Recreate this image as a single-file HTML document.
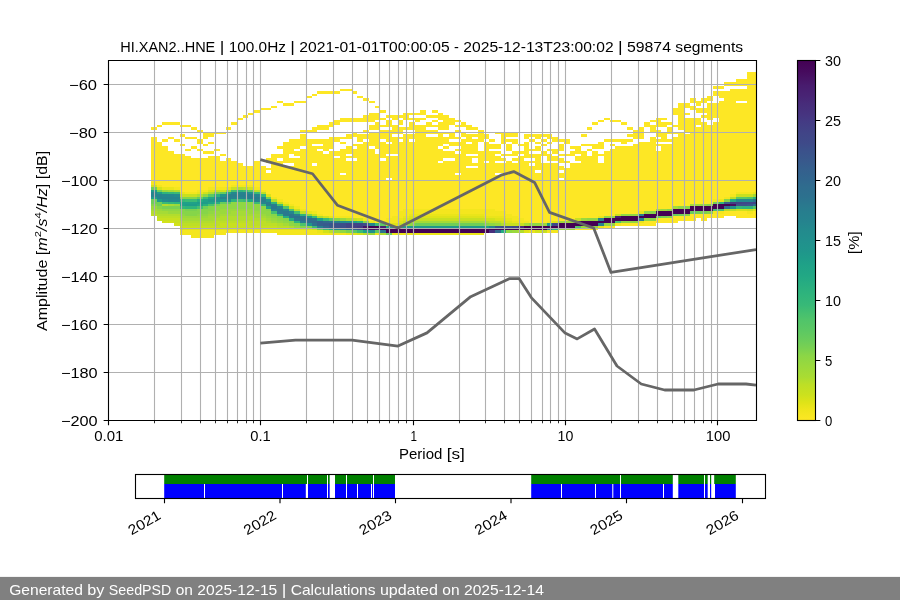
<!DOCTYPE html>
<html lang="en"><head><meta charset="utf-8"><title>PPSD HI.XAN2..HNE</title>
<style>html,body{margin:0;padding:0;background:#fff;width:900px;height:600px;overflow:hidden}svg text{font-family:"Liberation Sans",sans-serif;}</style></head>
<body>
<svg width="900" height="600" viewBox="0 0 900 600" style="display:block"><defs><clipPath id="axclip"><rect x="108.5" y="60.5" width="648" height="360"/></clipPath></defs><g clip-path="url(#axclip)" shape-rendering="crispEdges">
<path fill="#fde725" d="M151 127H157V130H151ZM151 137H157V182H151ZM157 125H162V127H157ZM157 142H162V185H157ZM162 122H168V125H162ZM162 139H168V142H162ZM162 146H168V187H162ZM168 122H174V125H168ZM168 137H174V139H168ZM168 151H174V187H168ZM174 122H180V125H174ZM174 139H180V142H174ZM174 154H180V187H174ZM180 125H185V127H180ZM180 134H185V137H180ZM180 144H185V146H180ZM180 154H185V192H180ZM185 125H191V127H185ZM185 137H191V139H185ZM185 149H191V151H185ZM185 156H191V192H185ZM191 127H197V130H191ZM191 137H197V139H191ZM191 146H197V149H191ZM191 158H197V192H191ZM197 130H203V132H197ZM197 139H203V144H197ZM197 149H203V151H197ZM197 158H203V190H197ZM203 132H208V139H203ZM203 144H208V146H203ZM203 151H208V154H203ZM203 158H208V190H203ZM208 132H214V137H208ZM208 142H214V144H208ZM208 151H214V154H208ZM208 156H214V187H208ZM214 132H220V134H214ZM214 149H220V151H214ZM214 156H220V187H214ZM220 132H226V134H220ZM220 154H226V156H220ZM220 161H226V187H220ZM226 127H231V130H226ZM226 158H231V187H226ZM231 122H237V125H231ZM231 161H237V185H231ZM237 118H243V120H237ZM237 163H243V185H237ZM243 115H248V118H243ZM243 166H248V185H243ZM248 113H254V115H248ZM248 166H254V185H248ZM254 110H260V113H254ZM254 161H260V187H254ZM260 108H266V110H260ZM260 166H266V190H260ZM266 108H271V110H266ZM266 158H271V163H266ZM266 168H271V170H266ZM266 173H271V194H266ZM271 106H277V108H271ZM271 154H277V197H271ZM277 101H283V103H277ZM277 146H283V149H277ZM277 154H283V158H277ZM277 161H283V199H277ZM283 103H289V106H283ZM283 142H289V163H283ZM283 166H289V202H283ZM289 103H294V106H289ZM289 139H294V154H289ZM289 158H294V163H289ZM289 166H294V204H289ZM294 101H300V103H294ZM294 139H300V149H294ZM294 151H300V156H294ZM294 158H300V206H294ZM300 101H306V103H300ZM300 130H306V132H300ZM300 134H306V146H300ZM300 149H306V209H300ZM306 96H312V98H306ZM306 130H312V132H306ZM306 139H312V211H306ZM312 94H317V96H312ZM312 127H317V132H312ZM312 139H317V144H312ZM312 146H317V163H312ZM312 166H317V211H312ZM317 91H323V94H317ZM317 125H323V130H317ZM317 139H323V144H317ZM317 146H323V149H317ZM317 151H323V214H317ZM323 91H329V94H323ZM323 125H329V130H323ZM323 139H329V151H323ZM323 154H329V216H323ZM329 91H334V94H329ZM329 122H334V127H329ZM329 137H334V149H329ZM329 151H334V216H329ZM334 91H340V94H334ZM334 120H340V125H334ZM334 137H340V142H334ZM334 151H340V156H334ZM334 158H340V216H334ZM340 89H346V91H340ZM340 118H346V122H340ZM340 137H346V139H340ZM340 142H346V144H340ZM340 149H346V173H340ZM340 175H346V216H340ZM346 89H352V91H346ZM346 118H352V122H346ZM346 134H352V139H346ZM346 146H352V154H346ZM346 156H352V158H346ZM346 161H352V216H346ZM352 91H357V94H352ZM352 118H357V122H352ZM352 132H357V137H352ZM352 144H357V146H352ZM352 149H357V158H352ZM352 161H357V218H352ZM357 96H363V98H357ZM357 118H363V122H357ZM357 134H363V142H357ZM357 144H363V218H357ZM363 98H369V101H363ZM363 115H369V122H363ZM363 130H369V132H363ZM363 134H369V139H363ZM363 142H369V218H363ZM369 101H375V103H369ZM369 113H375V122H369ZM369 125H375V130H369ZM369 132H375V146H369ZM369 149H375V221H369ZM375 106H380V108H375ZM375 113H380V120H375ZM375 122H380V130H375ZM375 132H380V149H375ZM375 154H380V223H375ZM380 110H386V113H380ZM380 118H386V120H380ZM380 125H386V127H380ZM380 130H386V139H380ZM380 142H386V158H380ZM380 161H386V221H380ZM386 115H392V118H386ZM386 120H392V127H386ZM386 130H392V142H386ZM386 144H392V154H386ZM386 156H392V178H386ZM386 180H392V218H386ZM392 115H398V120H392ZM392 125H398V134H392ZM392 137H398V154H392ZM392 156H398V216H392ZM398 115H403V118H398ZM398 120H403V125H398ZM398 127H403V134H398ZM398 137H403V139H398ZM398 142H403V211H398ZM403 113H409V120H403ZM403 127H409V130H403ZM403 134H409V209H403ZM409 113H415V115H409ZM409 118H415V120H409ZM409 122H415V130H409ZM409 134H415V139H409ZM409 142H415V209H409ZM415 113H420V115H415ZM415 118H420V122H415ZM415 125H420V209H415ZM420 110H426V115H420ZM420 118H426V120H420ZM420 125H426V209H420ZM426 115H432V118H426ZM426 122H432V127H426ZM426 130H432V134H426ZM426 137H432V209H426ZM432 110H438V113H432ZM432 115H438V118H432ZM432 120H438V122H432ZM432 125H438V127H432ZM432 130H438V134H432ZM432 137H438V209H432ZM438 113H443V120H438ZM438 122H443V130H438ZM438 132H443V146H438ZM438 149H443V161H438ZM438 163H443V209H438ZM443 115H449V130H443ZM443 132H449V134H443ZM443 137H449V144H443ZM443 146H449V149H443ZM443 151H449V158H443ZM443 161H449V209H443ZM449 118H455V125H449ZM449 132H455V139H449ZM449 142H455V146H449ZM449 151H455V158H449ZM449 161H455V209H449ZM455 120H461V122H455ZM455 125H461V127H455ZM455 130H461V132H455ZM455 137H461V139H455ZM455 142H461V146H455ZM455 149H461V151H455ZM455 154H461V173H455ZM455 175H461V209H455ZM461 122H466V127H461ZM461 132H466V137H461ZM461 139H466V209H461ZM466 125H472V130H466ZM466 134H472V142H466ZM466 144H472V154H466ZM466 156H472V166H466ZM466 168H472V209H466ZM472 127H478V130H472ZM472 134H478V137H472ZM472 139H478V154H472ZM472 156H478V158H472ZM472 163H478V166H472ZM472 168H478V209H472ZM478 130H484V142H478ZM478 151H484V209H478ZM484 134H489V139H484ZM484 142H489V161H484ZM484 163H489V209H484ZM489 139H495V142H489ZM489 144H495V149H489ZM489 151H495V209H489ZM495 132H501V134H495ZM495 144H501V149H495ZM495 151H501V154H495ZM495 156H501V161H495ZM495 163H501V173H495ZM495 175H501V211H495ZM501 132H506V144H501ZM501 154H506V156H501ZM501 158H506V161H501ZM501 163H506V173H501ZM501 175H506V211H501ZM506 132H512V137H506ZM506 139H512V142H506ZM506 144H512V151H506ZM506 154H512V156H506ZM506 161H512V214H506ZM512 132H518V137H512ZM512 139H518V144H512ZM512 151H518V156H512ZM512 158H518V161H512ZM512 163H518V216H512ZM518 144H524V146H518ZM518 151H524V154H518ZM518 156H524V218H518ZM524 134H529V139H524ZM524 142H529V158H524ZM524 161H529V221H524ZM529 134H535V137H529ZM529 139H535V142H529ZM529 149H535V151H529ZM529 154H535V158H529ZM529 161H535V163H529ZM529 166H535V223H529ZM535 134H541V139H535ZM535 142H541V144H535ZM535 146H541V151H535ZM535 154H541V170H535ZM535 173H541V223H535ZM541 134H547V137H541ZM541 139H547V142H541ZM541 144H547V146H541ZM541 151H547V156H541ZM541 163H547V223H541ZM547 134H552V139H547ZM547 142H552V144H547ZM547 149H552V151H547ZM547 154H552V161H547ZM547 163H552V221H547ZM552 137H558V142H552ZM552 149H558V154H552ZM552 156H558V161H552ZM552 163H558V221H552ZM558 139H564V142H558ZM558 144H564V151H558ZM558 154H564V156H558ZM558 158H564V163H558ZM558 166H564V170H558ZM558 173H564V178H558ZM558 180H564V221H558ZM564 139H570V144H564ZM564 154H570V156H564ZM564 161H570V163H564ZM564 168H570V221H564ZM570 146H575V149H570ZM570 151H575V156H570ZM570 163H575V221H570ZM575 146H581V154H575ZM575 156H581V161H575ZM575 163H581V218H575ZM575 228H581V230H575ZM581 134H587V137H581ZM581 144H587V146H581ZM581 151H587V218H581ZM581 228H587V230H581ZM587 127H592V130H587ZM587 144H592V146H587ZM587 149H592V151H587ZM587 156H592V218H587ZM587 228H592V230H587ZM592 122H598V125H592ZM592 144H598V149H592ZM592 151H598V218H592ZM592 228H598V230H592ZM598 120H604V122H598ZM598 142H604V149H598ZM598 154H604V156H598ZM598 163H604V216H598ZM604 118H610V120H604ZM604 139H610V142H604ZM604 151H610V216H604ZM604 226H610V228H604ZM610 120H615V122H610ZM610 139H615V142H610ZM610 144H615V146H610ZM610 149H615V216H610ZM610 226H615V228H610ZM615 120H621V122H615ZM615 139H621V142H615ZM615 146H621V214H615ZM621 122H627V125H621ZM621 139H627V144H621ZM621 146H627V214H621ZM621 223H627V226H621ZM627 127H633V130H627ZM627 134H633V137H627ZM627 139H633V142H627ZM627 146H633V214H627ZM627 223H633V226H627ZM633 130H638V139H633ZM633 144H638V214H633ZM633 223H638V226H633ZM638 127H644V139H638ZM638 142H644V211H638ZM638 223H644V226H638ZM644 122H650V127H644ZM644 142H650V211H644ZM644 221H650V226H644ZM650 120H656V122H650ZM650 125H656V132H650ZM650 137H656V211H650ZM650 221H656V226H650ZM656 118H661V127H656ZM656 130H661V137H656ZM656 139H661V142H656ZM656 144H661V146H656ZM656 151H661V209H656ZM656 218H661V223H656ZM661 118H667V120H661ZM661 122H667V127H661ZM661 132H667V142H661ZM661 144H667V209H661ZM661 218H667V223H661ZM667 122H673V125H667ZM667 127H673V134H667ZM667 139H673V142H667ZM667 144H673V209H667ZM667 218H673V223H667ZM673 108H678V115H673ZM673 125H678V127H673ZM673 132H678V134H673ZM673 137H678V206H673ZM673 216H678V223H673ZM678 103H684V130H678ZM678 132H684V206H678ZM678 216H684V221H678ZM684 103H690V108H684ZM684 113H690V115H684ZM684 118H690V132H684ZM684 134H690V206H684ZM684 216H690V221H684ZM690 98H696V103H690ZM690 106H696V110H690ZM690 118H696V204H690ZM690 214H696V221H690ZM696 101H701V106H696ZM696 108H701V113H696ZM696 118H701V125H696ZM696 127H701V204H696ZM696 214H701V218H696ZM701 98H707V103H701ZM701 108H707V113H701ZM701 115H707V118H701ZM701 122H707V204H701ZM701 214H707V221H701ZM707 96H713V101H707ZM707 103H713V120H707ZM707 125H713V204H707ZM707 214H713V218H707ZM713 86H719V89H713ZM713 91H719V96H713ZM713 103H719V118H713ZM713 122H719V199H713ZM713 214H719V218H713ZM719 86H724V89H719ZM719 91H724V98H719ZM719 101H724V199H719ZM719 214H724V218H719ZM724 82H730V86H724ZM724 91H730V197H724ZM724 211H730V216H724ZM730 82H736V86H730ZM730 89H736V194H730ZM730 211H736V216H730ZM736 79H742V86H736ZM736 89H742V101H736ZM736 103H742V192H736ZM736 211H742V218H736ZM742 79H747V86H742ZM742 89H747V101H742ZM742 103H747V192H742ZM742 211H747V218H742ZM747 72H753V192H747ZM747 214H753V218H747ZM753 72H759V192H753ZM753 211H759V218H753Z"/>
<path fill="#f4e61e" d="M151 182H157V185H151ZM157 185H162V187H157ZM174 187H180V190H174ZM180 230H185V235H180ZM185 192H191V194H185ZM185 230H191V235H185ZM191 192H197V194H191ZM191 230H197V238H191ZM197 190H203V192H197ZM197 230H203V238H197ZM203 190H208V192H203ZM203 230H208V238H203ZM208 187H214V190H208ZM208 230H214V238H208ZM214 187H220V190H214ZM214 230H220V235H214ZM220 187H226V190H220ZM220 230H226V235H220ZM226 230H231V233H226ZM231 185H237V187H231ZM231 230H237V233H231ZM237 185H243V187H237ZM237 230H243V233H237ZM243 185H248V187H243ZM243 230H248V233H243ZM248 185H254V187H248ZM248 230H254V233H248ZM254 187H260V190H254ZM254 230H260V233H254ZM260 190H266V192H260ZM260 230H266V233H260ZM266 230H271V233H266ZM271 197H277V199H271ZM271 230H277V233H271ZM277 199H283V202H277ZM277 230H283V235H277ZM283 202H289V204H283ZM283 230H289V235H283ZM289 204H294V206H289ZM289 230H294V235H289ZM294 206H300V209H294ZM294 230H300V235H294ZM300 209H306V211H300ZM300 230H306V235H300ZM306 230H312V235H306ZM312 211H317V214H312ZM312 230H317V235H312ZM317 214H323V216H317ZM317 233H323V235H317ZM323 233H329V235H323ZM329 233H334V235H329ZM334 216H340V218H334ZM334 233H340V235H334ZM340 216H346V218H340ZM340 233H346V235H340ZM346 216H352V218H346ZM363 218H369V221H363ZM375 233H380V235H375ZM386 218H392V223H386ZM392 216H398V223H392ZM398 211H403V218H398ZM403 209H409V216H403ZM409 209H415V214H409ZM415 209H420V214H415ZM420 209H426V214H420ZM426 209H432V214H426ZM432 209H438V214H432ZM438 209H443V214H438ZM443 209H449V214H443ZM449 209H455V214H449ZM455 209H461V214H455ZM461 209H466V214H461ZM466 209H472V214H466ZM472 209H478V214H472ZM478 209H484V214H478ZM484 209H489V216H484ZM489 209H495V216H489ZM495 211H501V216H495ZM501 211H506V216H501ZM506 214H512V218H506ZM512 216H518V221H512ZM518 218H524V223H518ZM524 221H529V223H524ZM547 221H552V223H547ZM547 230H552V233H547ZM552 230H558V233H552ZM615 223H621V226H615ZM713 199H719V202H713ZM713 211H719V214H713ZM719 211H724V214H719ZM724 197H730V199H724ZM730 194H736V197H730ZM736 192H742V194H736ZM742 192H747V194H742ZM747 192H753V194H747ZM747 211H753V214H747Z"/>
<path fill="#eae51a" d="M162 187H168V190H162ZM168 187H174V190H168ZM180 192H185V194H180ZM197 192H203V194H197ZM226 187H231V190H226ZM306 211H312V214H306ZM317 230H323V233H317ZM329 216H334V218H329ZM346 233H352V235H346ZM369 221H375V223H369ZM380 221H386V223H380ZM392 233H398V235H392ZM398 218H403V221H398ZM398 233H403V235H398ZM403 216H409V218H403ZM403 233H409V235H403ZM409 214H415V216H409ZM409 233H415V235H409ZM415 214H420V216H415ZM415 233H420V235H415ZM420 214H426V216H420ZM420 233H426V235H420ZM426 214H432V216H426ZM426 233H432V235H426ZM432 214H438V216H432ZM432 233H438V235H432ZM438 214H443V216H438ZM438 233H443V235H438ZM443 214H449V216H443ZM443 233H449V235H443ZM449 214H455V216H449ZM449 233H455V235H449ZM455 214H461V216H455ZM455 233H461V235H455ZM461 214H466V216H461ZM461 233H466V235H461ZM466 214H472V216H466ZM466 233H472V235H466ZM472 214H478V216H472ZM472 233H478V235H472ZM478 214H484V216H478ZM478 233H484V235H478ZM484 216H489V218H484ZM489 216H495V218H489ZM495 216H501V218H495ZM501 216H506V218H501ZM506 218H512V221H506ZM512 221H518V223H512ZM529 230H535V233H529ZM598 216H604V218H598ZM598 226H604V228H598ZM638 211H644V214H638ZM638 221H644V223H638ZM719 199H724V202H719ZM753 192H759V194H753Z"/>
<path fill="#dfe318" d="M180 228H185V230H180ZM185 228H191V230H185ZM191 228H197V230H191ZM197 228H203V230H197ZM203 228H208V230H203ZM208 190H214V192H208ZM208 228H214V230H208ZM214 228H220V230H214ZM220 228H226V230H220ZM226 228H231V230H226ZM231 228H237V230H231ZM237 228H243V230H237ZM243 228H248V230H243ZM248 228H254V230H248ZM254 228H260V230H254ZM260 228H266V230H260ZM266 194H271V197H266ZM266 228H271V230H266ZM271 228H277V230H271ZM277 228H283V230H277ZM283 228H289V230H283ZM289 228H294V230H289ZM294 228H300V230H294ZM300 228H306V230H300ZM306 228H312V230H306ZM352 233H357V235H352ZM386 223H392V226H386ZM392 223H398V226H392ZM398 221H403V223H398ZM403 218H409V221H403ZM409 216H415V218H409ZM415 216H420V218H415ZM420 216H426V218H420ZM426 216H432V218H426ZM432 216H438V218H432ZM438 216H443V218H438ZM443 216H449V218H443ZM449 216H455V218H449ZM455 216H461V218H455ZM461 216H466V218H461ZM466 216H472V218H466ZM472 216H478V218H472ZM478 216H484V218H478ZM495 218H501V221H495ZM501 218H506V221H501ZM506 221H512V223H506ZM524 230H529V233H524ZM552 221H558V223H552ZM753 209H759V211H753Z"/>
<path fill="#d2e21b" d="M151 185H157V187H151ZM157 187H162V190H157ZM162 221H168V223H162ZM168 221H174V223H168ZM174 223H180V226H174ZM203 192H208V194H203ZM220 190H226V192H220ZM248 187H254V190H248ZM283 204H289V206H283ZM289 206H294V209H289ZM323 216H329V218H323ZM323 230H329V233H323ZM357 218H363V221H357ZM357 233H363V235H357ZM409 218H415V221H409ZM484 218H489V221H484ZM489 218H495V221H489ZM501 221H506V223H501ZM535 230H541V233H535ZM736 209H742V211H736ZM742 209H747V211H742Z"/>
<path fill="#c8e020" d="M157 218H162V221H157ZM162 218H168V221H162ZM168 218H174V221H168ZM174 218H180V223H174ZM180 194H185V197H180ZM180 226H185V228H180ZM185 194H191V197H185ZM185 226H191V228H185ZM191 194H197V197H191ZM191 226H197V228H191ZM197 226H203V228H197ZM203 226H208V228H203ZM208 226H214V228H208ZM214 190H220V192H214ZM214 226H220V228H214ZM220 223H226V228H220ZM226 223H231V228H226ZM231 187H237V190H231ZM231 223H237V228H231ZM237 223H243V228H237ZM243 223H248V228H243ZM248 226H254V228H248ZM254 226H260V228H254ZM260 226H266V228H260ZM266 226H271V228H266ZM271 226H277V228H271ZM277 202H283V204H277ZM294 209H300V211H294ZM312 214H317V216H312ZM312 228H317V230H312ZM352 218H357V221H352ZM398 223H403V226H398ZM403 221H409V223H403ZM415 218H420V221H415ZM420 218H426V221H420ZM426 218H432V221H426ZM432 218H438V221H432ZM438 218H443V221H438ZM443 218H449V221H443ZM449 218H455V221H449ZM455 218H461V221H455ZM461 218H466V221H461ZM466 218H472V221H466ZM472 218H478V221H472ZM478 218H484V221H478ZM506 223H512V226H506ZM512 223H518V226H512ZM518 223H524V226H518ZM541 230H547V233H541ZM575 218H581V221H575ZM615 214H621V216H615ZM736 194H742V197H736ZM742 194H747V197H742ZM747 194H753V197H747ZM747 209H753V211H747Z"/>
<path fill="#bddf26" d="M151 214H157V216H151ZM157 216H162V218H157ZM162 216H168V218H162ZM168 216H174V218H168ZM174 216H180V218H174ZM180 223H185V226H180ZM185 223H191V226H185ZM191 223H197V226H191ZM197 223H203V226H197ZM203 223H208V226H203ZM208 223H214V226H208ZM214 221H220V226H214ZM220 221H226V223H220ZM226 221H231V223H226ZM231 221H237V223H231ZM237 221H243V223H237ZM243 187H248V190H243ZM243 221H248V223H243ZM248 221H254V226H248ZM254 190H260V192H254ZM254 221H260V226H254ZM260 192H266V194H260ZM260 221H266V226H260ZM266 223H271V226H266ZM271 223H277V226H271ZM277 226H283V228H277ZM283 226H289V228H283ZM300 211H306V214H300ZM329 230H334V233H329ZM363 233H369V235H363ZM489 221H495V223H489ZM495 221H501V223H495ZM730 197H736V199H730ZM730 209H736V211H730Z"/>
<path fill="#b2dd2d" d="M151 211H157V214H151ZM157 214H162V216H157ZM162 204H168V206H162ZM162 214H168V216H162ZM168 214H174V216H168ZM174 190H180V192H174ZM174 214H180V216H174ZM180 221H185V223H180ZM185 221H191V223H185ZM191 221H197V223H191ZM197 194H203V197H197ZM197 221H203V223H197ZM203 221H208V223H203ZM208 192H214V194H208ZM208 221H214V223H208ZM214 218H220V221H214ZM220 216H226V221H220ZM226 216H231V221H226ZM231 216H237V221H231ZM237 187H243V190H237ZM237 216H243V221H237ZM243 216H248V221H243ZM248 216H254V221H248ZM254 218H260V221H254ZM260 218H266V221H260ZM266 221H271V223H266ZM271 199H277V202H271ZM277 223H283V226H277ZM289 226H294V228H289ZM317 216H323V218H317ZM346 218H352V221H346ZM380 233H386V235H380ZM409 221H415V223H409ZM484 221H489V223H484ZM501 223H506V226H501ZM518 230H524V233H518ZM724 209H730V211H724Z"/>
<path fill="#a5db36" d="M151 209H157V211H151ZM157 211H162V214H157ZM162 211H168V214H162ZM168 190H174V192H168ZM168 204H174V206H168ZM180 218H185V221H180ZM185 218H191V221H185ZM191 218H197V221H191ZM197 218H203V221H197ZM203 218H208V221H203ZM208 216H214V221H208ZM214 216H220V218H214ZM220 214H226V216H220ZM226 214H231V216H226ZM231 211H237V216H231ZM237 211H243V216H237ZM243 211H248V216H243ZM248 214H254V216H248ZM254 214H260V218H254ZM260 216H266V218H260ZM266 218H271V221H266ZM271 221H277V223H271ZM283 223H289V226H283ZM403 223H409V226H403ZM415 221H420V223H415ZM420 221H426V223H420ZM426 221H432V223H426ZM432 221H438V223H432ZM438 221H443V223H438ZM443 221H449V223H443ZM449 221H455V223H449ZM455 221H461V223H455ZM461 221H466V223H461ZM466 221H472V223H466ZM472 221H478V223H472ZM478 221H484V223H478ZM524 223H529V226H524ZM656 209H661V211H656ZM673 206H678V209H673ZM690 204H696V206H690ZM753 194H759V197H753Z"/>
<path fill="#9bd93c" d="M151 206H157V209H151ZM157 209H162V211H157ZM162 190H168V192H162ZM168 211H174V214H168ZM174 204H180V206H174ZM174 211H180V214H174ZM180 216H185V218H180ZM185 216H191V218H185ZM191 216H197V218H191ZM197 216H203V218H197ZM203 216H208V218H203ZM208 214H214V216H208ZM214 211H220V216H214ZM220 209H226V214H220ZM226 190H231V192H226ZM226 209H231V214H226ZM231 209H237V211H231ZM237 209H243V211H237ZM243 209H248V211H243ZM248 209H254V214H248ZM254 211H260V214H254ZM260 214H266V216H260ZM266 216H271V218H266ZM271 218H277V221H271ZM277 221H283V223H277ZM294 226H300V228H294ZM334 230H340V233H334ZM340 218H346V221H340ZM369 233H375V235H369ZM495 223H501V226H495ZM512 230H518V233H512ZM541 223H547V226H541ZM558 221H564V223H558ZM558 228H564V230H558ZM564 221H570V223H564ZM564 228H570V230H564ZM570 221H575V223H570ZM570 228H575V230H570ZM581 218H587V221H581ZM581 226H587V228H581ZM661 209H667V211H661ZM696 204H701V206H696Z"/>
<path fill="#90d743" d="M162 209H168V211H162ZM168 209H174V211H168ZM174 209H180V211H174ZM180 214H185V216H180ZM197 214H203V216H197ZM203 194H208V197H203ZM203 214H208V216H203ZM208 211H214V214H208ZM214 206H220V211H214ZM220 204H226V209H220ZM226 204H231V209H226ZM231 202H237V209H231ZM237 202H243V209H237ZM243 202H248V209H243ZM248 202H254V209H248ZM254 204H260V211H254ZM260 206H266V214H260ZM266 211H271V216H266ZM271 216H277V218H271ZM277 218H283V221H277ZM283 221H289V223H283ZM289 223H294V226H289ZM340 230H346V233H340ZM409 223H415V226H409ZM489 223H495V226H489ZM506 230H512V233H506ZM529 223H535V226H529ZM535 223H541V226H535ZM587 218H592V221H587ZM587 226H592V228H587ZM592 218H598V221H592ZM592 226H598V228H592ZM604 216H610V218H604ZM604 223H610V226H604ZM610 216H615V218H610ZM610 223H615V226H610ZM621 214H627V216H621ZM621 221H627V223H621ZM627 214H633V216H627ZM627 221H633V223H627ZM633 214H638V216H633ZM633 221H638V223H633ZM644 211H650V214H644ZM644 218H650V221H644ZM678 206H684V209H678ZM701 204H707V206H701Z"/>
<path fill="#86d549" d="M151 204H157V206H151ZM157 206H162V209H157ZM180 197H185V199H180ZM180 209H185V214H180ZM185 197H191V199H185ZM185 211H191V216H185ZM191 197H197V199H191ZM191 211H197V216H191ZM197 209H203V214H197ZM203 209H208V214H203ZM208 206H214V211H208ZM266 209H271V211H266ZM271 214H277V216H271ZM277 216H283V218H277ZM283 218H289V221H283ZM289 221H294V223H289ZM294 223H300V226H294ZM300 226H306V228H300ZM306 214H312V216H306ZM306 226H312V228H306ZM334 218H340V221H334ZM363 221H369V223H363ZM484 223H489V226H484ZM650 211H656V214H650ZM650 218H656V221H650ZM667 209H673V211H667ZM667 216H673V218H667ZM684 206H690V209H684ZM684 214H690V216H684ZM707 204H713V206H707ZM707 211H713V214H707ZM724 199H730V202H724Z"/>
<path fill="#7ad151" d="M162 206H168V209H162ZM168 206H174V209H168ZM174 206H180V209H174ZM185 209H191V211H185ZM191 209H197V211H191ZM214 192H220V194H214ZM214 204H220V206H214ZM346 230H352V233H346ZM661 216H667V218H661ZM701 211H707V214H701Z"/>
<path fill="#70cf57" d="M151 187H157V190H151ZM151 199H157V204H151ZM157 190H162V192H157ZM157 202H162V206H157ZM203 206H208V209H203ZM266 197H271V199H266ZM317 228H323V230H317ZM386 233H392V235H386ZM415 223H420V226H415ZM420 223H426V226H420ZM426 223H432V226H426ZM432 223H438V226H432ZM438 223H443V226H438ZM443 223H449V226H443ZM449 223H455V226H449ZM455 223H461V226H455ZM461 223H466V226H461ZM466 223H472V226H466ZM472 223H478V226H472ZM478 223H484V226H478ZM678 214H684V216H678ZM696 211H701V214H696ZM713 202H719V204H713Z"/>
<path fill="#67cc5c" d="M197 197H203V199H197ZM220 192H226V194H220ZM220 202H226V204H220ZM656 216H661V218H656ZM673 214H678V216H673ZM690 211H696V214H690Z"/>
<path fill="#5cc863" d="M208 194H214V197H208ZM226 202H231V204H226ZM248 190H254V192H248ZM329 218H334V221H329ZM352 230H357V233H352ZM375 230H380V233H375ZM380 223H386V226H380ZM736 197H742V199H736ZM742 197H747V199H742Z"/>
<path fill="#54c568" d="M283 206H289V209H283ZM289 209H294V211H289ZM575 226H581V228H575ZM747 197H753V199H747ZM753 206H759V209H753Z"/>
<path fill="#4cc26c" d="M208 204H214V206H208ZM300 223H306V226H300ZM615 221H621V223H615ZM719 209H724V211H719Z"/>
<path fill="#44bf70" d="M197 206H203V209H197ZM231 190H237V192H231ZM237 199H243V202H237ZM271 211H277V214H271ZM277 204H283V206H277ZM294 211H300V214H294ZM713 209H719V211H713Z"/>
<path fill="#3bbb75" d="M162 202H168V204H162ZM174 192H180V194H174ZM185 199H191V202H185ZM191 199H197V202H191ZM203 197H208V199H203ZM243 190H248V192H243ZM243 199H248V202H243ZM254 192H260V194H254ZM254 202H260V204H254ZM312 216H317V218H312ZM312 226H317V228H312ZM323 218H329V221H323ZM323 228H329V230H323ZM357 230H363V233H357ZM375 223H380V226H375Z"/>
<path fill="#35b779" d="M168 192H174V194H168ZM168 202H174V204H168ZM180 199H185V202H180ZM180 206H185V209H180ZM260 194H266V197H260ZM260 204H266V206H260ZM736 206H742V209H736Z"/>
<path fill="#2fb47c" d="M162 192H168V194H162ZM174 202H180V204H174ZM185 206H191V209H185ZM191 206H197V209H191ZM231 199H237V202H231ZM237 190H243V192H237ZM271 202H277V204H271ZM277 214H283V216H277ZM294 221H300V223H294ZM300 214H306V216H300ZM552 228H558V230H552ZM719 202H724V204H719ZM742 206H747V209H742ZM747 206H753V209H747ZM753 197H759V199H753Z"/>
<path fill="#2ab07f" d="M203 204H208V206H203ZM214 194H220V197H214ZM214 202H220V204H214ZM357 221H363V223H357Z"/>
<path fill="#25ac82" d="M197 199H203V202H197ZM283 216H289V218H283ZM289 218H294V221H289ZM501 230H506V233H501ZM730 199H736V202H730Z"/>
<path fill="#22a884" d="M208 197H214V199H208ZM226 192H231V194H226ZM248 199H254V202H248ZM329 228H334V230H329Z"/>
<path fill="#20a486" d="M197 204H203V206H197ZM208 202H214V204H208ZM363 230H369V233H363Z"/>
<path fill="#1fa188" d="M180 202H185V206H180ZM185 202H191V204H185ZM191 202H197V204H191ZM203 199H208V202H203ZM266 206H271V209H266ZM317 218H323V221H317ZM352 221H357V223H352ZM386 226H392V228H386ZM484 226H489V228H484Z"/>
<path fill="#1e9c89" d="M151 190H157V192H151ZM151 197H157V199H151ZM157 192H162V194H157ZM157 199H162V202H157ZM185 204H191V206H185ZM191 204H197V206H191ZM197 202H203V204H197ZM203 202H208V204H203ZM547 223H552V226H547Z"/>
<path fill="#1f988b" d="M208 199H214V202H208ZM392 226H398V228H392ZM398 226H403V228H398ZM403 226H409V228H403ZM409 226H415V228H409ZM415 226H420V228H415ZM420 226H426V228H420ZM426 226H432V228H426ZM432 226H438V228H432ZM438 226H443V228H438ZM443 226H449V228H443ZM449 226H455V228H449ZM455 226H461V228H455ZM461 226H466V228H461ZM466 226H472V228H466ZM472 226H478V228H472ZM478 226H484V228H478Z"/>
<path fill="#1f948c" d="M220 194H226V197H220ZM220 199H226V202H220ZM266 199H271V202H266ZM306 216H312V218H306ZM306 223H312V226H306Z"/>
<path fill="#21908d" d="M214 197H220V202H214ZM226 199H231V202H226ZM248 192H254V194H248ZM334 228H340V230H334ZM346 221H352V223H346ZM369 230H375V233H369ZM730 206H736V209H730Z"/>
<path fill="#228c8d" d="M162 199H168V202H162ZM174 194H180V197H174Z"/>
<path fill="#23888e" d="M162 194H168V197H162ZM168 194H174V197H168ZM168 199H174V202H168ZM174 199H180V202H174ZM231 192H237V194H231ZM237 197H243V199H237ZM340 221H346V223H340ZM736 199H742V202H736ZM742 199H747V202H742ZM747 199H753V202H747Z"/>
<path fill="#25848e" d="M151 192H157V197H151ZM157 194H162V199H157ZM162 197H168V199H162ZM168 197H174V199H168ZM174 197H180V199H174ZM231 197H237V199H231ZM237 192H243V194H237ZM243 192H248V194H243ZM243 197H248V199H243ZM254 194H260V197H254ZM254 199H260V202H254ZM260 197H266V199H260ZM260 202H266V204H260ZM271 209H277V211H271ZM277 206H283V209H277ZM283 209H289V211H283ZM289 211H294V214H289ZM340 228H346V230H340ZM369 223H375V226H369ZM598 218H604V221H598ZM598 223H604V226H598Z"/>
<path fill="#27808e" d="M220 197H226V199H220ZM226 194H231V199H226ZM231 194H237V197H231ZM237 194H243V197H237ZM243 194H248V197H243ZM294 214H300V216H294ZM317 226H323V228H317ZM334 221H340V223H334ZM489 226H495V228H489ZM638 214H644V216H638ZM638 218H644V221H638Z"/>
<path fill="#287c8e" d="M248 194H254V199H248ZM254 197H260V199H254ZM260 199H266V202H260ZM266 202H271V206H266ZM271 204H277V206H271ZM277 211H283V214H277ZM300 221H306V223H300Z"/>
<path fill="#2a788e" d="M271 206H277V209H271ZM277 209H283V211H277ZM283 211H289V216H283ZM294 218H300V221H294ZM547 228H552V230H547Z"/>
<path fill="#2b748e" d="M289 214H294V218H289ZM300 216H306V218H300ZM346 228H352V230H346ZM380 230H386V233H380ZM753 199H759V202H753Z"/>
<path fill="#2d708e" d="M294 216H300V218H294ZM300 218H306V221H300ZM312 218H317V221H312ZM312 223H317V226H312ZM329 221H334V223H329ZM753 204H759V206H753Z"/>
<path fill="#2f6c8e" d="M306 218H312V223H306ZM724 206H730V209H724Z"/>
<path fill="#31688e" d="M312 221H317V223H312ZM323 221H329V223H323ZM323 226H329V228H323ZM495 230H501V233H495Z"/>
<path fill="#32648e" d="M352 228H357V230H352Z"/>
<path fill="#355f8d" d="M317 221H323V226H317Z"/>
<path fill="#375b8d" d="M323 223H329V226H323ZM329 226H334V228H329ZM724 202H730V204H724Z"/>
<path fill="#39568c" d="M329 223H334V226H329ZM357 228H363V230H357ZM495 226H501V228H495ZM747 204H753V206H747Z"/>
<path fill="#3b518b" d="M334 223H340V228H334ZM506 226H512V228H506ZM736 204H742V206H736ZM742 204H747V206H742Z"/>
<path fill="#3d4d8a" d="M340 223H346V228H340ZM363 223H369V226H363ZM501 226H506V228H501Z"/>
<path fill="#3f4889" d="M512 226H518V228H512ZM552 223H558V226H552ZM742 202H747V204H742ZM747 202H753V204H747Z"/>
<path fill="#414487" d="M346 223H352V228H346ZM352 223H357V226H352ZM357 223H363V226H357ZM736 202H742V204H736ZM753 202H759V204H753Z"/>
<path fill="#433e85" d="M352 226H357V228H352ZM730 202H736V204H730Z"/>
<path fill="#443983" d="M357 226H363V228H357Z"/>
<path fill="#463480" d="M363 228H369V230H363Z"/>
<path fill="#472f7d" d="M489 230H495V233H489Z"/>
<path fill="#482979" d="M518 226H524V228H518Z"/>
<path fill="#481f70" d="M375 228H380V230H375ZM380 226H386V228H380ZM575 221H581V223H575ZM615 216H621V218H615Z"/>
<path fill="#471365" d="M363 226H369V228H363Z"/>
<path fill="#470d60" d="M369 228H375V230H369ZM730 204H736V206H730Z"/>
<path fill="#440154" d="M369 226H375V228H369ZM375 226H380V228H375ZM380 228H386V230H380ZM386 228H392V233H386ZM392 228H398V233H392ZM398 228H403V233H398ZM403 228H409V233H403ZM409 228H415V233H409ZM415 228H420V233H415ZM420 228H426V233H420ZM426 228H432V233H426ZM432 228H438V233H432ZM438 228H443V233H438ZM443 228H449V233H443ZM449 228H455V233H449ZM455 228H461V233H455ZM461 228H466V233H461ZM466 228H472V233H466ZM472 228H478V233H472ZM478 228H484V233H478ZM484 228H489V233H484ZM489 228H495V230H489ZM495 228H501V230H495ZM501 228H506V230H501ZM506 228H512V230H506ZM512 228H518V230H512ZM518 228H524V230H518ZM524 226H529V230H524ZM529 226H535V230H529ZM535 226H541V230H535ZM541 226H547V230H541ZM547 226H552V228H547ZM552 226H558V228H552ZM558 223H564V228H558ZM564 223H570V228H564ZM570 223H575V228H570ZM575 223H581V226H575ZM581 221H587V226H581ZM587 221H592V226H587ZM592 221H598V226H592ZM598 221H604V223H598ZM604 218H610V223H604ZM610 218H615V223H610ZM615 218H621V221H615ZM621 216H627V221H621ZM627 216H633V221H627ZM633 216H638V221H633ZM638 216H644V218H638ZM644 214H650V218H644ZM650 214H656V218H650ZM656 211H661V216H656ZM661 211H667V216H661ZM667 211H673V216H667ZM673 209H678V214H673ZM678 209H684V214H678ZM684 209H690V214H684ZM690 206H696V211H690ZM696 206H701V211H696ZM701 206H707V211H701ZM707 206H713V211H707ZM713 204H719V209H713ZM719 204H724V209H719ZM724 204H730V206H724Z"/>
</g>
<path d="M154.5 60V420M181.5 60V420M200.5 60V420M215.5 60V420M227.5 60V420M237.5 60V420M246.5 60V420M253.5 60V420M260.5 60V420M306.5 60V420M333.5 60V420M352.5 60V420M367.5 60V420M379.5 60V420M389.5 60V420M398.5 60V420M406.5 60V420M413.5 60V420M459.5 60V420M485.5 60V420M504.5 60V420M519.5 60V420M531.5 60V420M542.5 60V420M550.5 60V420M558.5 60V420M565.5 60V420M611.5 60V420M638.5 60V420M657.5 60V420M672.5 60V420M684.5 60V420M694.5 60V420M703.5 60V420M711.5 60V420M717.5 60V420M108 372.5H756M108 324.5H756M108 276.5H756M108 228.5H756M108 180.5H756M108 132.5H756M108 84.5H756" stroke="#b0b0b0" stroke-width="1.11" fill="none"/>
<path d="M260.37 159.6L312.54 173.76L337.34 205.2L397.97 228L501.08 175.2L513.72 171.6L534.53 182.4L549.51 212.4L593.68 228L610.97 272.4L756 249.53" stroke="#666666" stroke-width="2.78" fill="none" stroke-linejoin="round" clip-path="url(#axclip)"/>
<path d="M260.37 343.2L295.48 340.08L352.1 340.08L397.97 346.08L426.97 332.88L470.67 296.64L509.26 278.64L519.24 278.64L531.3 297.6L565.1 333.12L577.17 338.88L594.53 329.04L616.98 366L641.24 384L664.63 390L693.87 390L718.13 384L746.05 384L756 385.15" stroke="#666666" stroke-width="2.78" fill="none" stroke-linejoin="round" clip-path="url(#axclip)"/>
<path d="M108.5 60.5H756.5V420.5H108.5Z" stroke="#000" stroke-width="1.11" fill="none" stroke-linecap="square"/>
<path d="M108.5 420.5v4.86M260.5 420.5v4.86M413.5 420.5v4.86M565.5 420.5v4.86M717.5 420.5v4.86M108.5 420.5h-4.86M108.5 372.5h-4.86M108.5 324.5h-4.86M108.5 276.5h-4.86M108.5 228.5h-4.86M108.5 180.5h-4.86M108.5 132.5h-4.86M108.5 84.5h-4.86" stroke="#000" stroke-width="1.11" fill="none"/>
<path d="M154.5 420.5v2.78M181.5 420.5v2.78M200.5 420.5v2.78M215.5 420.5v2.78M227.5 420.5v2.78M237.5 420.5v2.78M246.5 420.5v2.78M253.5 420.5v2.78M306.5 420.5v2.78M333.5 420.5v2.78M352.5 420.5v2.78M367.5 420.5v2.78M379.5 420.5v2.78M389.5 420.5v2.78M398.5 420.5v2.78M406.5 420.5v2.78M459.5 420.5v2.78M485.5 420.5v2.78M504.5 420.5v2.78M519.5 420.5v2.78M531.5 420.5v2.78M542.5 420.5v2.78M550.5 420.5v2.78M558.5 420.5v2.78M611.5 420.5v2.78M638.5 420.5v2.78M657.5 420.5v2.78M672.5 420.5v2.78M684.5 420.5v2.78M694.5 420.5v2.78M703.5 420.5v2.78M711.5 420.5v2.78" stroke="#000" stroke-width="0.83" fill="none"/>
<defs><linearGradient id="cb" x1="0" y1="0" x2="0" y2="1"><stop offset="0" stop-color="#440154"/><stop offset="0.03" stop-color="#460a5d"/><stop offset="0.05" stop-color="#471365"/><stop offset="0.07" stop-color="#481c6e"/><stop offset="0.1" stop-color="#482475"/><stop offset="0.12" stop-color="#472c7a"/><stop offset="0.15" stop-color="#463480"/><stop offset="0.17" stop-color="#443b84"/><stop offset="0.2" stop-color="#414487"/><stop offset="0.23" stop-color="#3e4a89"/><stop offset="0.25" stop-color="#3b518b"/><stop offset="0.28" stop-color="#38598c"/><stop offset="0.3" stop-color="#355f8d"/><stop offset="0.33" stop-color="#31668e"/><stop offset="0.35" stop-color="#2f6c8e"/><stop offset="0.38" stop-color="#2c718e"/><stop offset="0.4" stop-color="#2a788e"/><stop offset="0.42" stop-color="#277e8e"/><stop offset="0.45" stop-color="#25848e"/><stop offset="0.47" stop-color="#238a8d"/><stop offset="0.5" stop-color="#21908d"/><stop offset="0.53" stop-color="#1f968b"/><stop offset="0.55" stop-color="#1e9c89"/><stop offset="0.57" stop-color="#1fa287"/><stop offset="0.6" stop-color="#22a884"/><stop offset="0.62" stop-color="#27ad81"/><stop offset="0.65" stop-color="#2fb47c"/><stop offset="0.68" stop-color="#38b977"/><stop offset="0.7" stop-color="#44bf70"/><stop offset="0.72" stop-color="#50c46a"/><stop offset="0.75" stop-color="#5cc863"/><stop offset="0.78" stop-color="#6ccd5a"/><stop offset="0.8" stop-color="#7ad151"/><stop offset="0.82" stop-color="#8bd646"/><stop offset="0.85" stop-color="#9bd93c"/><stop offset="0.88" stop-color="#aadc32"/><stop offset="0.9" stop-color="#bddf26"/><stop offset="0.93" stop-color="#cde11d"/><stop offset="0.95" stop-color="#dfe318"/><stop offset="0.97" stop-color="#efe51c"/><stop offset="1" stop-color="#fde725"/></linearGradient></defs>
<rect x="797.5" y="60.5" width="18" height="360" fill="url(#cb)"/>
<rect x="797.5" y="60.5" width="18" height="360" fill="none" stroke="#000" stroke-width="1.11"/>
<path d="M815.5 420.5h4.86M815.5 360.5h4.86M815.5 300.5h4.86M815.5 240.5h4.86M815.5 180.5h4.86M815.5 120.5h4.86M815.5 60.5h4.86" stroke="#000" stroke-width="1.11" fill="none"/>
<rect x="164.2" y="474.5" width="230.8" height="9.5" fill="#008000"/>
<rect x="164.2" y="484" width="230.8" height="14.5" fill="#0000ff"/>
<rect x="531.2" y="474.5" width="204.6" height="9.5" fill="#008000"/>
<rect x="531.2" y="484" width="204.6" height="14.5" fill="#0000ff"/>
<rect x="204" y="484" width="1" height="14.5" fill="#fff"/>
<rect x="282" y="484" width="1" height="14.5" fill="#fff"/>
<rect x="357" y="484" width="1" height="14.5" fill="#fff"/>
<rect x="371" y="484" width="1" height="14.5" fill="#fff"/>
<rect x="305.8" y="484" width="2.2" height="14.5" fill="#fff"/>
<rect x="307" y="474.5" width="1" height="9.5" fill="#fff"/>
<rect x="327" y="474.5" width="1" height="24" fill="#fff"/>
<rect x="329.7" y="474.5" width="5.3" height="24" fill="#fff"/>
<rect x="346" y="474.5" width="1" height="24" fill="#fff"/>
<rect x="373" y="474.5" width="1" height="24" fill="#fff"/>
<rect x="561" y="484" width="1" height="14.5" fill="#fff"/>
<rect x="595" y="484" width="1" height="14.5" fill="#fff"/>
<rect x="612.3" y="484" width="1" height="14.5" fill="#fff"/>
<rect x="663" y="484" width="1" height="14.5" fill="#fff"/>
<rect x="620" y="474.5" width="1" height="24" fill="#fff"/>
<rect x="672.8" y="474.5" width="5.5" height="24" fill="#fff"/>
<rect x="704" y="474.5" width="1" height="24" fill="#fff"/>
<rect x="707.7" y="474.5" width="2.3" height="24" fill="#fff"/>
<rect x="711.2" y="474.5" width="3" height="9.5" fill="#fff"/>
<rect x="711.2" y="484" width="3.8" height="14.5" fill="#fff"/>
<rect x="135.5" y="474.5" width="630" height="24" fill="none" stroke="#000" stroke-width="1.11"/>
<path d="M164.5 498.5v4.86M280 498.5v4.86M395.5 498.5v4.86M511 498.5v4.86M626.5 498.5v4.86M742.5 498.5v4.86" stroke="#000" stroke-width="1.11" fill="none"/>
<rect x="0" y="576.9" width="900" height="23.1" fill="#808080"/>
<g opacity="0.999"><text y="51.6" font-size="14.1"><tspan x="120.2" textLength="95.12" lengthAdjust="spacingAndGlyphs">HI.XAN2..HNE</tspan> <tspan x="219.7" textLength="4.62" lengthAdjust="spacingAndGlyphs">|</tspan> <tspan x="228.7" textLength="57.25" lengthAdjust="spacingAndGlyphs">100.0Hz</tspan> <tspan x="290.32" textLength="4.63" lengthAdjust="spacingAndGlyphs">|</tspan> <tspan x="299.32" textLength="80.13" lengthAdjust="spacingAndGlyphs">2021-01-01</tspan><tspan x="379.45" textLength="70.25" lengthAdjust="spacingAndGlyphs">T00:00:05</tspan> <tspan x="454.08" textLength="4.87" lengthAdjust="spacingAndGlyphs">-</tspan> <tspan x="463.32" textLength="80" lengthAdjust="spacingAndGlyphs">2025-12-13</tspan><tspan x="543.32" textLength="70.26" lengthAdjust="spacingAndGlyphs">T23:00:02</tspan> <tspan x="617.95" textLength="4.63" lengthAdjust="spacingAndGlyphs">|</tspan> <tspan x="626.95" textLength="44" lengthAdjust="spacingAndGlyphs">59874</tspan> <tspan x="675.32" textLength="67.88" lengthAdjust="spacingAndGlyphs">segments</tspan></text>
<text x="60.9" y="425.6" font-size="14.1" textLength="36.7" lengthAdjust="spacingAndGlyphs">−200</text>
<text x="60.9" y="377.6" font-size="14.1" textLength="36.7" lengthAdjust="spacingAndGlyphs">−180</text>
<text x="60.9" y="329.6" font-size="14.1" textLength="36.7" lengthAdjust="spacingAndGlyphs">−160</text>
<text x="60.9" y="281.6" font-size="14.1" textLength="36.7" lengthAdjust="spacingAndGlyphs">−140</text>
<text x="60.9" y="233.6" font-size="14.1" textLength="36.7" lengthAdjust="spacingAndGlyphs">−120</text>
<text x="60.9" y="185.6" font-size="14.1" textLength="36.7" lengthAdjust="spacingAndGlyphs">−100</text>
<text x="69" y="137.6" font-size="14.1" textLength="28" lengthAdjust="spacingAndGlyphs">−80</text>
<text x="69" y="89.6" font-size="14.1" textLength="28" lengthAdjust="spacingAndGlyphs">−60</text>
<text x="94.2" y="440.7" font-size="14.1" textLength="29.2" lengthAdjust="spacingAndGlyphs">0.01</text>
<text x="250.25" y="440.7" font-size="14.1" textLength="20.5" lengthAdjust="spacingAndGlyphs">0.1</text>
<text x="410.55" y="440.7" font-size="14.1" textLength="6.5" lengthAdjust="spacingAndGlyphs">1</text>
<text x="557.6" y="440.7" font-size="14.1" textLength="15.8" lengthAdjust="spacingAndGlyphs">10</text>
<text x="705.8" y="440.7" font-size="14.1" textLength="24.6" lengthAdjust="spacingAndGlyphs">100</text>
<text y="459.4" font-size="14.1"><tspan x="399" textLength="43.38" lengthAdjust="spacingAndGlyphs">Period</tspan> <tspan x="446.75" textLength="18.13" lengthAdjust="spacingAndGlyphs">[s]</tspan></text>
<g transform="translate(47.0,331.0) rotate(-90)"><text x="0" y="0" font-size="14.1" textLength="180.3" lengthAdjust="spacingAndGlyphs">Amplitude [<tspan font-style="italic">m</tspan><tspan font-size="9.9" dy="-6">2</tspan><tspan dy="6" font-style="italic">/s</tspan><tspan font-size="9.9" dy="-6">4</tspan><tspan dy="6" font-style="italic">/Hz</tspan>] [dB]</text></g>
<text x="825" y="425.6" font-size="14.1" textLength="7.3" lengthAdjust="spacingAndGlyphs">0</text>
<text x="825" y="365.6" font-size="14.1" textLength="7.3" lengthAdjust="spacingAndGlyphs">5</text>
<text x="825" y="305.6" font-size="14.1" textLength="16" lengthAdjust="spacingAndGlyphs">10</text>
<text x="825" y="245.6" font-size="14.1" textLength="16" lengthAdjust="spacingAndGlyphs">15</text>
<text x="825" y="185.6" font-size="14.1" textLength="16" lengthAdjust="spacingAndGlyphs">20</text>
<text x="825" y="125.6" font-size="14.1" textLength="16" lengthAdjust="spacingAndGlyphs">25</text>
<text x="825" y="65.6" font-size="14.1" textLength="16" lengthAdjust="spacingAndGlyphs">30</text>
<g transform="translate(859.2,254.2) rotate(-90)"><text x="0" y="0" font-size="14.1" textLength="23" lengthAdjust="spacingAndGlyphs">[%]</text></g>
<g transform="translate(161.9,518) rotate(-30)"><text x="0" y="0" font-size="14.1" text-anchor="end" textLength="35" lengthAdjust="spacingAndGlyphs">2021</text></g>
<g transform="translate(277.4,518) rotate(-30)"><text x="0" y="0" font-size="14.1" text-anchor="end" textLength="35" lengthAdjust="spacingAndGlyphs">2022</text></g>
<g transform="translate(392.9,518) rotate(-30)"><text x="0" y="0" font-size="14.1" text-anchor="end" textLength="35" lengthAdjust="spacingAndGlyphs">2023</text></g>
<g transform="translate(508.4,518) rotate(-30)"><text x="0" y="0" font-size="14.1" text-anchor="end" textLength="35" lengthAdjust="spacingAndGlyphs">2024</text></g>
<g transform="translate(623.9,518) rotate(-30)"><text x="0" y="0" font-size="14.1" text-anchor="end" textLength="35" lengthAdjust="spacingAndGlyphs">2025</text></g>
<g transform="translate(739.9,518) rotate(-30)"><text x="0" y="0" font-size="14.1" text-anchor="end" textLength="35" lengthAdjust="spacingAndGlyphs">2026</text></g>
<text y="595.2" font-size="14.1" fill="#fff"><tspan x="9.2" textLength="73.75" lengthAdjust="spacingAndGlyphs">Generated</tspan> <tspan x="87.32" textLength="17.13" lengthAdjust="spacingAndGlyphs">by</tspan> <tspan x="108.82" textLength="62.5" lengthAdjust="spacingAndGlyphs">SeedPSD</tspan> <tspan x="175.7" textLength="17.25" lengthAdjust="spacingAndGlyphs">on</tspan> <tspan x="197.32" textLength="80" lengthAdjust="spacingAndGlyphs">2025-12-15</tspan> <tspan x="281.7" textLength="4.62" lengthAdjust="spacingAndGlyphs">|</tspan> <tspan x="290.7" textLength="84.88" lengthAdjust="spacingAndGlyphs">Calculations</tspan> <tspan x="379.95" textLength="58" lengthAdjust="spacingAndGlyphs">updated</tspan> <tspan x="442.32" textLength="17.26" lengthAdjust="spacingAndGlyphs">on</tspan> <tspan x="463.95" textLength="80" lengthAdjust="spacingAndGlyphs">2025-12-14</tspan></text></g></svg>
</body></html>
